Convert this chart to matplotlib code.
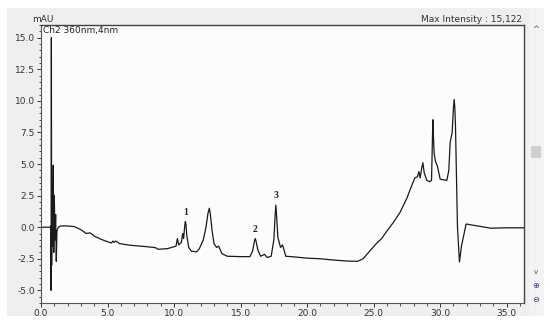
import matplotlib
matplotlib.use("Agg")
import matplotlib.pyplot as plt
from matplotlib.patches import Rectangle
from matplotlib.ticker import MultipleLocator
import numpy as np

# Chromatogram (time in min, absorbance in mAU)
time_min = [0.0, 0.7, 0.74, 0.76, 0.78, 0.80, 0.84, 0.88, 0.92, 0.96, 1.00, 1.05, 1.10, 1.15,
            1.2, 1.3, 1.5, 1.9, 2.5, 3.0, 3.4, 3.7, 4.0, 4.5, 5.0, 5.3, 5.4, 5.5, 5.6, 5.7, 5.9,
            6.5, 6.9, 8.0, 8.6, 8.8, 9.5, 10.0, 10.15, 10.25, 10.35, 10.55, 10.65, 10.72, 10.8,
            10.85, 10.9, 10.95, 11.1, 11.3, 11.7, 11.9, 12.2, 12.4, 12.55, 12.65, 12.72, 12.85,
            13.0, 13.2, 13.35, 13.6, 14.0, 15.0, 15.7, 15.9, 16.05, 16.1, 16.15, 16.3, 16.5,
            16.8, 17.0, 17.3, 17.5, 17.6, 17.65, 17.7, 17.8, 18.0, 18.15, 18.4, 19.0, 20.0, 21.0,
            22.0, 23.0, 23.8, 24.2, 24.7, 25.2, 25.6, 26.0, 26.5, 27.0, 27.5, 27.9, 28.1, 28.3,
            28.4, 28.5, 28.6, 28.7, 28.8, 29.0, 29.2, 29.35, 29.42, 29.45, 29.5, 29.55, 29.65,
            29.8, 30.0, 30.5, 30.65, 30.75, 30.9, 31.0, 31.05, 31.1, 31.15, 31.3, 31.45, 31.6,
            31.95, 32.5, 33.8, 35.0, 36.3]
absorb_mau = [0.0, 0.0, 0.1, -5.0, 15.0, -3.0, 3.5, -1.5, 4.9, -2.0, 2.5, -1.0, 1.0, -2.7,
              -0.3, 0.0, 0.1, 0.1, 0.05, -0.2, -0.5, -0.45, -0.7, -0.95, -1.15, -1.25, -1.1, -1.2, -1.1, -1.15, -1.3,
              -1.4, -1.45, -1.55, -1.62, -1.75, -1.7, -1.55, -1.5, -0.9, -1.4, -1.2, -0.5, -0.9, 0.1,
              0.45, 0.2, -0.6, -1.6, -1.9, -1.95, -1.7, -1.0, 0.0, 1.1, 1.5, 1.1, -0.2,
              -1.3, -1.6, -1.5, -2.1, -2.3, -2.33, -2.33, -1.9, -1.05, -0.9, -1.05, -1.8, -2.3,
              -2.15, -2.4, -2.3, -1.0, 1.0, 1.75, 1.0, -0.8, -1.6, -1.4, -2.3, -2.35, -2.45, -2.5,
              -2.6, -2.68, -2.7, -2.5, -1.9, -1.3, -0.9, -0.3, 0.4, 1.2, 2.3, 3.4, 3.9, 4.0,
              4.4, 3.9, 4.6, 5.1, 4.3, 3.7, 3.6, 3.7, 7.0, 8.5, 7.0, 5.8, 5.2,
              4.8, 3.8, 3.7, 4.5, 6.7, 7.5, 9.5, 10.1, 9.5, 8.0, 0.0, -2.75, -1.5,
              0.25, 0.15, -0.08, -0.05, -0.05]

peak_labels = ["1", "2", "3"]
peak_times = [10.85, 16.1, 17.65]
peak_heights = [0.45, -0.9, 1.75]

W, H = 550, 323
fig = plt.figure(figsize=(5.5, 3.23), dpi=100)
fig.patch.set_facecolor("white")

def fx(px):
    return px / W

def fy(py):
    return 1 - py / H

# gray panel
fig.add_artist(Rectangle((fx(7), fy(316)), fx(537), 308 / H, transform=fig.transFigure,
                         facecolor="#efefef", edgecolor="none", zorder=0))
# scrollbar strip
fig.add_artist(Rectangle((fx(529), fy(316)), fx(15), 308 / H, transform=fig.transFigure,
                         facecolor="#f3f3f3", edgecolor="none", zorder=0))
fig.add_artist(Rectangle((fx(531), fy(158)), fx(10), 12 / H, transform=fig.transFigure,
                         facecolor="#cfcfcf", edgecolor="none", zorder=1))
fig.text(fx(536), fy(30), "^", fontsize=6, ha="center", va="center", color="#555555")
fig.text(fx(536), fy(272), "v", fontsize=5, ha="center", va="center", color="#555555")
fig.text(fx(536), fy(286), "⊕", fontsize=6, ha="center", va="center", color="#334477")
fig.text(fx(536), fy(299), "⊖", fontsize=6, ha="center", va="center", color="#334477")

ax = fig.add_axes([fx(41), fy(303), fx(524 - 41), (303 - 25) / H])
ax.set_facecolor("#fcfcfc")
ax.plot(time_min, absorb_mau, color="#1a1a1a", lw=0.9)

ax.set_xlim(0, 36.3)
ax.set_ylim(-6.0, 16.0)
ax.xaxis.set_major_locator(MultipleLocator(5))
ax.xaxis.set_minor_locator(MultipleLocator(1))
ax.yaxis.set_major_locator(MultipleLocator(2.5))
ax.yaxis.set_minor_locator(MultipleLocator(0.5))
ax.xaxis.set_major_formatter(matplotlib.ticker.FormatStrFormatter("%.1f"))
ax.yaxis.set_major_formatter(matplotlib.ticker.FormatStrFormatter("%.1f"))
ax.tick_params(axis="both", which="major", length=3, width=0.7, labelsize=6.5,
               colors="#333333", pad=1.5)
ax.tick_params(axis="both", which="minor", length=1.8, width=0.6, colors="#333333")
for s in ["left", "bottom"]:
    ax.spines[s].set_color("#555555")
    ax.spines[s].set_linewidth(0.8)
for s in ["top", "right"]:
    ax.spines[s].set_color("#444444")
    ax.spines[s].set_linewidth(1.0)

for lab, t, h in zip(peak_labels, peak_times, peak_heights):
    ax.annotate(lab, (t, h), xytext=(0, 3.5), textcoords="offset points", ha="center",
                va="bottom", fontsize=7, family="Liberation Serif", fontweight="bold",
                color="#222222")

fig.text(fx(43), fy(19), "mAU", fontsize=6.5, ha="center", va="center", color="#333333")
ax.text(0.004, 0.995, "Ch2 360nm,4nm", transform=ax.transAxes, fontsize=6.5,
        ha="left", va="top", color="#222222")
fig.text(fx(522), fy(19), "Max Intensity : 15,122", fontsize=6.5, ha="right",
         va="center", color="#333333")

fig.savefig("out.png", dpi=100, facecolor=fig.get_facecolor())
